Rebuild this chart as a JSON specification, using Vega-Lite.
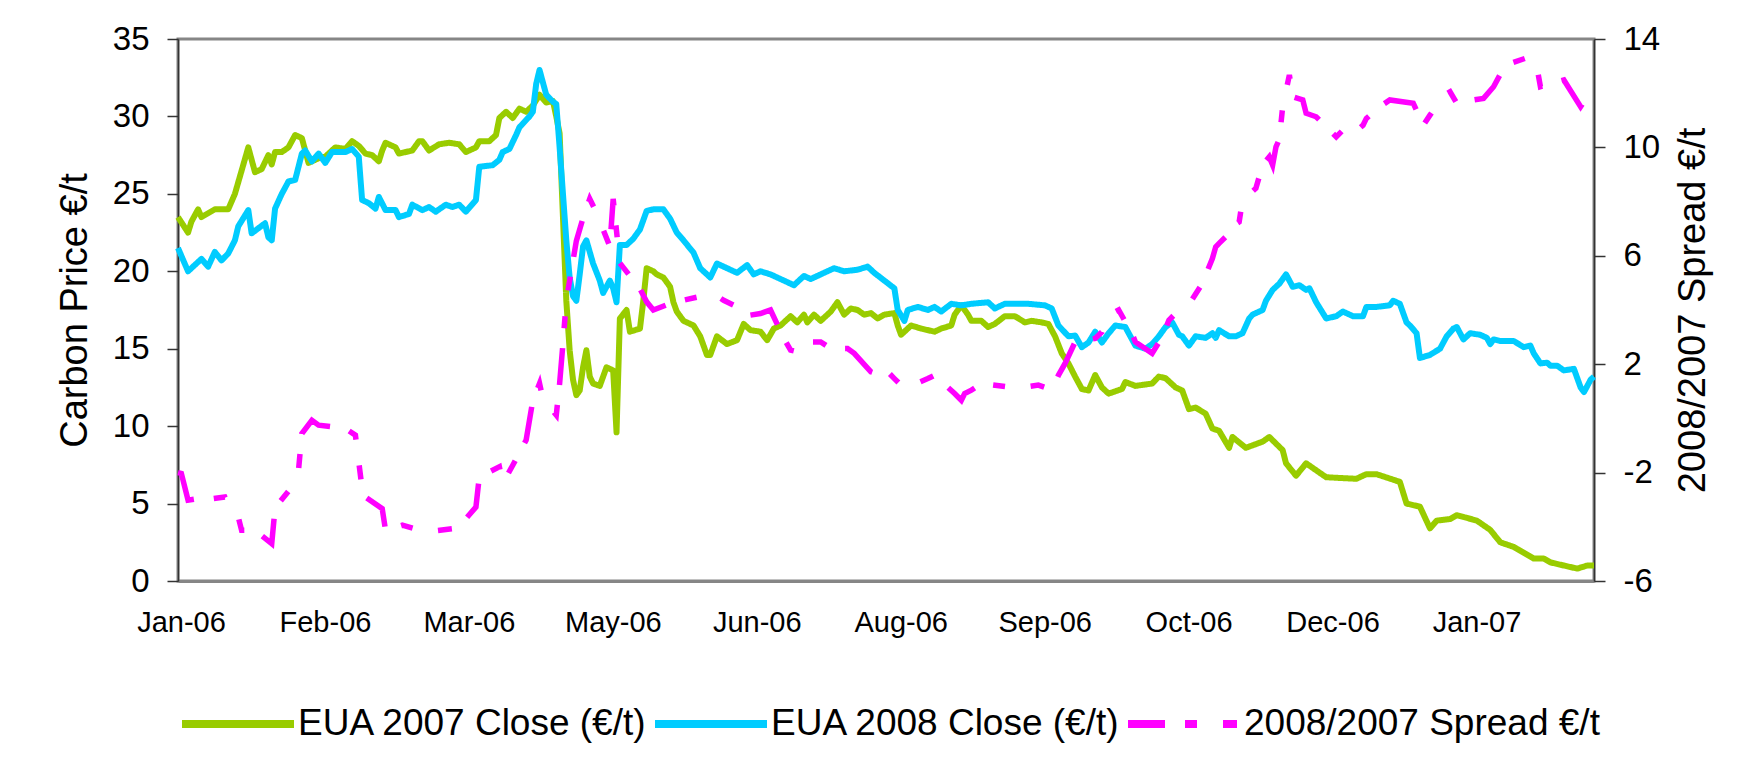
{
  "$schema": "https://vega.github.io/schema/vega-lite/v6.json",
  "width": 1416,
  "height": 542,
  "autosize": {"type": "none"},
  "padding": {"left": 178, "top": 39, "right": 160, "bottom": 178},
  "background": "white",
  "config": {
    "font": "Liberation Sans",
    "view": {"stroke": "#868686", "strokeWidth": 3},
    "axis": {"grid": false, "labelFont": "Liberation Sans", "titleFont": "Liberation Sans", "labelColor": "black", "titleColor": "black", "titleFontWeight": "normal"}
  },
  "datasets": {
    "eua": [
      {"date":"2006-01-02","series":"EUA 2007 Close (€/t)","price":23.5},
      {"date":"2006-01-05","series":"EUA 2007 Close (€/t)","price":22.5},
      {"date":"2006-01-06","series":"EUA 2007 Close (€/t)","price":23.2},
      {"date":"2006-01-08","series":"EUA 2007 Close (€/t)","price":24.0},
      {"date":"2006-01-09","series":"EUA 2007 Close (€/t)","price":23.5},
      {"date":"2006-01-13","series":"EUA 2007 Close (€/t)","price":24.0},
      {"date":"2006-01-17","series":"EUA 2007 Close (€/t)","price":24.0},
      {"date":"2006-01-19","series":"EUA 2007 Close (€/t)","price":25.0},
      {"date":"2006-01-21","series":"EUA 2007 Close (€/t)","price":26.5},
      {"date":"2006-01-23","series":"EUA 2007 Close (€/t)","price":28.0},
      {"date":"2006-01-25","series":"EUA 2007 Close (€/t)","price":26.4},
      {"date":"2006-01-27","series":"EUA 2007 Close (€/t)","price":26.6},
      {"date":"2006-01-29","series":"EUA 2007 Close (€/t)","price":27.5},
      {"date":"2006-01-30","series":"EUA 2007 Close (€/t)","price":26.9},
      {"date":"2006-01-31","series":"EUA 2007 Close (€/t)","price":27.7},
      {"date":"2006-02-02","series":"EUA 2007 Close (€/t)","price":27.7},
      {"date":"2006-02-04","series":"EUA 2007 Close (€/t)","price":28.0},
      {"date":"2006-02-06","series":"EUA 2007 Close (€/t)","price":28.8},
      {"date":"2006-02-08","series":"EUA 2007 Close (€/t)","price":28.6},
      {"date":"2006-02-10","series":"EUA 2007 Close (€/t)","price":27.0},
      {"date":"2006-02-13","series":"EUA 2007 Close (€/t)","price":27.3},
      {"date":"2006-02-15","series":"EUA 2007 Close (€/t)","price":27.4},
      {"date":"2006-02-18","series":"EUA 2007 Close (€/t)","price":28.0},
      {"date":"2006-02-21","series":"EUA 2007 Close (€/t)","price":27.9},
      {"date":"2006-02-23","series":"EUA 2007 Close (€/t)","price":28.4},
      {"date":"2006-02-25","series":"EUA 2007 Close (€/t)","price":28.1},
      {"date":"2006-02-27","series":"EUA 2007 Close (€/t)","price":27.6},
      {"date":"2006-03-01","series":"EUA 2007 Close (€/t)","price":27.5},
      {"date":"2006-03-03","series":"EUA 2007 Close (€/t)","price":27.1},
      {"date":"2006-03-04","series":"EUA 2007 Close (€/t)","price":27.8},
      {"date":"2006-03-05","series":"EUA 2007 Close (€/t)","price":28.3},
      {"date":"2006-03-08","series":"EUA 2007 Close (€/t)","price":28.0},
      {"date":"2006-03-09","series":"EUA 2007 Close (€/t)","price":27.6},
      {"date":"2006-03-11","series":"EUA 2007 Close (€/t)","price":27.7},
      {"date":"2006-03-13","series":"EUA 2007 Close (€/t)","price":27.8},
      {"date":"2006-03-15","series":"EUA 2007 Close (€/t)","price":28.4},
      {"date":"2006-03-16","series":"EUA 2007 Close (€/t)","price":28.4},
      {"date":"2006-03-18","series":"EUA 2007 Close (€/t)","price":27.8},
      {"date":"2006-03-21","series":"EUA 2007 Close (€/t)","price":28.2},
      {"date":"2006-03-24","series":"EUA 2007 Close (€/t)","price":28.3},
      {"date":"2006-03-27","series":"EUA 2007 Close (€/t)","price":28.2},
      {"date":"2006-03-29","series":"EUA 2007 Close (€/t)","price":27.7},
      {"date":"2006-04-01","series":"EUA 2007 Close (€/t)","price":28.0},
      {"date":"2006-04-02","series":"EUA 2007 Close (€/t)","price":28.4},
      {"date":"2006-04-05","series":"EUA 2007 Close (€/t)","price":28.4},
      {"date":"2006-04-07","series":"EUA 2007 Close (€/t)","price":28.8},
      {"date":"2006-04-08","series":"EUA 2007 Close (€/t)","price":29.9},
      {"date":"2006-04-10","series":"EUA 2007 Close (€/t)","price":30.3},
      {"date":"2006-04-12","series":"EUA 2007 Close (€/t)","price":29.9},
      {"date":"2006-04-14","series":"EUA 2007 Close (€/t)","price":30.5},
      {"date":"2006-04-16","series":"EUA 2007 Close (€/t)","price":30.3},
      {"date":"2006-04-18","series":"EUA 2007 Close (€/t)","price":30.7},
      {"date":"2006-04-20","series":"EUA 2007 Close (€/t)","price":31.4},
      {"date":"2006-04-22","series":"EUA 2007 Close (€/t)","price":30.9},
      {"date":"2006-04-24","series":"EUA 2007 Close (€/t)","price":31.0},
      {"date":"2006-04-25","series":"EUA 2007 Close (€/t)","price":30.0},
      {"date":"2006-04-26","series":"EUA 2007 Close (€/t)","price":28.9},
      {"date":"2006-04-27","series":"EUA 2007 Close (€/t)","price":23.5},
      {"date":"2006-04-28","series":"EUA 2007 Close (€/t)","price":18.1},
      {"date":"2006-04-29","series":"EUA 2007 Close (€/t)","price":14.9},
      {"date":"2006-04-30","series":"EUA 2007 Close (€/t)","price":13.0},
      {"date":"2006-05-01","series":"EUA 2007 Close (€/t)","price":12.0},
      {"date":"2006-05-02","series":"EUA 2007 Close (€/t)","price":12.3},
      {"date":"2006-05-03","series":"EUA 2007 Close (€/t)","price":13.8},
      {"date":"2006-05-04","series":"EUA 2007 Close (€/t)","price":14.9},
      {"date":"2006-05-05","series":"EUA 2007 Close (€/t)","price":13.2},
      {"date":"2006-05-06","series":"EUA 2007 Close (€/t)","price":12.75},
      {"date":"2006-05-08","series":"EUA 2007 Close (€/t)","price":12.6},
      {"date":"2006-05-10","series":"EUA 2007 Close (€/t)","price":13.8},
      {"date":"2006-05-12","series":"EUA 2007 Close (€/t)","price":13.6},
      {"date":"2006-05-13","series":"EUA 2007 Close (€/t)","price":9.6},
      {"date":"2006-05-14","series":"EUA 2007 Close (€/t)","price":16.95},
      {"date":"2006-05-16","series":"EUA 2007 Close (€/t)","price":17.5},
      {"date":"2006-05-17","series":"EUA 2007 Close (€/t)","price":16.1},
      {"date":"2006-05-20","series":"EUA 2007 Close (€/t)","price":16.3},
      {"date":"2006-05-21","series":"EUA 2007 Close (€/t)","price":18.1},
      {"date":"2006-05-22","series":"EUA 2007 Close (€/t)","price":20.2},
      {"date":"2006-05-24","series":"EUA 2007 Close (€/t)","price":20.0},
      {"date":"2006-05-25","series":"EUA 2007 Close (€/t)","price":19.8},
      {"date":"2006-05-27","series":"EUA 2007 Close (€/t)","price":19.6},
      {"date":"2006-05-29","series":"EUA 2007 Close (€/t)","price":19.0},
      {"date":"2006-05-30","series":"EUA 2007 Close (€/t)","price":18.0},
      {"date":"2006-05-31","series":"EUA 2007 Close (€/t)","price":17.4},
      {"date":"2006-06-02","series":"EUA 2007 Close (€/t)","price":16.8},
      {"date":"2006-06-05","series":"EUA 2007 Close (€/t)","price":16.5},
      {"date":"2006-06-07","series":"EUA 2007 Close (€/t)","price":15.8},
      {"date":"2006-06-09","series":"EUA 2007 Close (€/t)","price":14.6},
      {"date":"2006-06-10","series":"EUA 2007 Close (€/t)","price":14.6},
      {"date":"2006-06-12","series":"EUA 2007 Close (€/t)","price":15.8},
      {"date":"2006-06-15","series":"EUA 2007 Close (€/t)","price":15.3},
      {"date":"2006-06-18","series":"EUA 2007 Close (€/t)","price":15.55},
      {"date":"2006-06-20","series":"EUA 2007 Close (€/t)","price":16.6},
      {"date":"2006-06-22","series":"EUA 2007 Close (€/t)","price":16.2},
      {"date":"2006-06-25","series":"EUA 2007 Close (€/t)","price":16.1},
      {"date":"2006-06-27","series":"EUA 2007 Close (€/t)","price":15.55},
      {"date":"2006-06-29","series":"EUA 2007 Close (€/t)","price":16.3},
      {"date":"2006-07-01","series":"EUA 2007 Close (€/t)","price":16.5},
      {"date":"2006-07-04","series":"EUA 2007 Close (€/t)","price":17.1},
      {"date":"2006-07-06","series":"EUA 2007 Close (€/t)","price":16.7},
      {"date":"2006-07-08","series":"EUA 2007 Close (€/t)","price":17.2},
      {"date":"2006-07-09","series":"EUA 2007 Close (€/t)","price":16.7},
      {"date":"2006-07-11","series":"EUA 2007 Close (€/t)","price":17.2},
      {"date":"2006-07-13","series":"EUA 2007 Close (€/t)","price":16.8},
      {"date":"2006-07-16","series":"EUA 2007 Close (€/t)","price":17.4},
      {"date":"2006-07-18","series":"EUA 2007 Close (€/t)","price":18.0},
      {"date":"2006-07-20","series":"EUA 2007 Close (€/t)","price":17.2},
      {"date":"2006-07-22","series":"EUA 2007 Close (€/t)","price":17.6},
      {"date":"2006-07-24","series":"EUA 2007 Close (€/t)","price":17.5},
      {"date":"2006-07-26","series":"EUA 2007 Close (€/t)","price":17.2},
      {"date":"2006-07-28","series":"EUA 2007 Close (€/t)","price":17.3},
      {"date":"2006-07-30","series":"EUA 2007 Close (€/t)","price":16.95},
      {"date":"2006-08-01","series":"EUA 2007 Close (€/t)","price":17.2},
      {"date":"2006-08-04","series":"EUA 2007 Close (€/t)","price":17.3},
      {"date":"2006-08-05","series":"EUA 2007 Close (€/t)","price":16.5},
      {"date":"2006-08-06","series":"EUA 2007 Close (€/t)","price":15.9},
      {"date":"2006-08-09","series":"EUA 2007 Close (€/t)","price":16.5},
      {"date":"2006-08-12","series":"EUA 2007 Close (€/t)","price":16.3},
      {"date":"2006-08-16","series":"EUA 2007 Close (€/t)","price":16.1},
      {"date":"2006-08-18","series":"EUA 2007 Close (€/t)","price":16.3},
      {"date":"2006-08-21","series":"EUA 2007 Close (€/t)","price":16.5},
      {"date":"2006-08-22","series":"EUA 2007 Close (€/t)","price":17.2},
      {"date":"2006-08-24","series":"EUA 2007 Close (€/t)","price":17.8},
      {"date":"2006-08-26","series":"EUA 2007 Close (€/t)","price":17.2},
      {"date":"2006-08-27","series":"EUA 2007 Close (€/t)","price":16.8},
      {"date":"2006-08-30","series":"EUA 2007 Close (€/t)","price":16.8},
      {"date":"2006-09-01","series":"EUA 2007 Close (€/t)","price":16.4},
      {"date":"2006-09-03","series":"EUA 2007 Close (€/t)","price":16.6},
      {"date":"2006-09-06","series":"EUA 2007 Close (€/t)","price":17.1},
      {"date":"2006-09-09","series":"EUA 2007 Close (€/t)","price":17.1},
      {"date":"2006-09-12","series":"EUA 2007 Close (€/t)","price":16.7},
      {"date":"2006-09-14","series":"EUA 2007 Close (€/t)","price":16.8},
      {"date":"2006-09-17","series":"EUA 2007 Close (€/t)","price":16.7},
      {"date":"2006-09-19","series":"EUA 2007 Close (€/t)","price":16.6},
      {"date":"2006-09-21","series":"EUA 2007 Close (€/t)","price":15.8},
      {"date":"2006-09-23","series":"EUA 2007 Close (€/t)","price":14.7},
      {"date":"2006-09-25","series":"EUA 2007 Close (€/t)","price":14.05},
      {"date":"2006-09-27","series":"EUA 2007 Close (€/t)","price":13.2},
      {"date":"2006-09-29","series":"EUA 2007 Close (€/t)","price":12.4},
      {"date":"2006-10-01","series":"EUA 2007 Close (€/t)","price":12.3},
      {"date":"2006-10-03","series":"EUA 2007 Close (€/t)","price":13.3},
      {"date":"2006-10-05","series":"EUA 2007 Close (€/t)","price":12.5},
      {"date":"2006-10-07","series":"EUA 2007 Close (€/t)","price":12.1},
      {"date":"2006-10-11","series":"EUA 2007 Close (€/t)","price":12.4},
      {"date":"2006-10-12","series":"EUA 2007 Close (€/t)","price":12.85},
      {"date":"2006-10-15","series":"EUA 2007 Close (€/t)","price":12.6},
      {"date":"2006-10-20","series":"EUA 2007 Close (€/t)","price":12.75},
      {"date":"2006-10-22","series":"EUA 2007 Close (€/t)","price":13.2},
      {"date":"2006-10-24","series":"EUA 2007 Close (€/t)","price":13.1},
      {"date":"2006-10-27","series":"EUA 2007 Close (€/t)","price":12.5},
      {"date":"2006-10-29","series":"EUA 2007 Close (€/t)","price":12.3},
      {"date":"2006-10-31","series":"EUA 2007 Close (€/t)","price":11.1},
      {"date":"2006-11-02","series":"EUA 2007 Close (€/t)","price":11.2},
      {"date":"2006-11-05","series":"EUA 2007 Close (€/t)","price":10.8},
      {"date":"2006-11-07","series":"EUA 2007 Close (€/t)","price":9.85},
      {"date":"2006-11-09","series":"EUA 2007 Close (€/t)","price":9.7},
      {"date":"2006-11-12","series":"EUA 2007 Close (€/t)","price":8.6},
      {"date":"2006-11-13","series":"EUA 2007 Close (€/t)","price":9.3},
      {"date":"2006-11-17","series":"EUA 2007 Close (€/t)","price":8.6},
      {"date":"2006-11-22","series":"EUA 2007 Close (€/t)","price":9.0},
      {"date":"2006-11-24","series":"EUA 2007 Close (€/t)","price":9.3},
      {"date":"2006-11-28","series":"EUA 2007 Close (€/t)","price":8.45},
      {"date":"2006-11-29","series":"EUA 2007 Close (€/t)","price":7.6},
      {"date":"2006-12-02","series":"EUA 2007 Close (€/t)","price":6.8},
      {"date":"2006-12-05","series":"EUA 2007 Close (€/t)","price":7.6},
      {"date":"2006-12-11","series":"EUA 2007 Close (€/t)","price":6.7},
      {"date":"2006-12-20","series":"EUA 2007 Close (€/t)","price":6.6},
      {"date":"2006-12-23","series":"EUA 2007 Close (€/t)","price":6.9},
      {"date":"2006-12-26","series":"EUA 2007 Close (€/t)","price":6.9},
      {"date":"2007-01-02","series":"EUA 2007 Close (€/t)","price":6.4},
      {"date":"2007-01-04","series":"EUA 2007 Close (€/t)","price":5.0},
      {"date":"2007-01-08","series":"EUA 2007 Close (€/t)","price":4.8},
      {"date":"2007-01-11","series":"EUA 2007 Close (€/t)","price":3.4},
      {"date":"2007-01-13","series":"EUA 2007 Close (€/t)","price":3.9},
      {"date":"2007-01-17","series":"EUA 2007 Close (€/t)","price":4.0},
      {"date":"2007-01-19","series":"EUA 2007 Close (€/t)","price":4.25},
      {"date":"2007-01-25","series":"EUA 2007 Close (€/t)","price":3.9},
      {"date":"2007-01-29","series":"EUA 2007 Close (€/t)","price":3.3},
      {"date":"2007-02-01","series":"EUA 2007 Close (€/t)","price":2.5},
      {"date":"2007-02-05","series":"EUA 2007 Close (€/t)","price":2.2},
      {"date":"2007-02-11","series":"EUA 2007 Close (€/t)","price":1.45},
      {"date":"2007-02-14","series":"EUA 2007 Close (€/t)","price":1.45},
      {"date":"2007-02-16","series":"EUA 2007 Close (€/t)","price":1.2},
      {"date":"2007-02-20","series":"EUA 2007 Close (€/t)","price":1.0},
      {"date":"2007-02-24","series":"EUA 2007 Close (€/t)","price":0.8},
      {"date":"2007-02-27","series":"EUA 2007 Close (€/t)","price":1.0},
      {"date":"2007-03-01","series":"EUA 2007 Close (€/t)","price":1.0},
      {"date":"2006-01-02","series":"EUA 2008 Close (€/t)","price":21.5},
      {"date":"2006-01-05","series":"EUA 2008 Close (€/t)","price":20.0},
      {"date":"2006-01-07","series":"EUA 2008 Close (€/t)","price":20.4},
      {"date":"2006-01-09","series":"EUA 2008 Close (€/t)","price":20.8},
      {"date":"2006-01-11","series":"EUA 2008 Close (€/t)","price":20.3},
      {"date":"2006-01-13","series":"EUA 2008 Close (€/t)","price":21.25},
      {"date":"2006-01-15","series":"EUA 2008 Close (€/t)","price":20.7},
      {"date":"2006-01-17","series":"EUA 2008 Close (€/t)","price":21.15},
      {"date":"2006-01-19","series":"EUA 2008 Close (€/t)","price":22.0},
      {"date":"2006-01-20","series":"EUA 2008 Close (€/t)","price":22.9},
      {"date":"2006-01-23","series":"EUA 2008 Close (€/t)","price":23.95},
      {"date":"2006-01-24","series":"EUA 2008 Close (€/t)","price":22.45},
      {"date":"2006-01-28","series":"EUA 2008 Close (€/t)","price":23.1},
      {"date":"2006-01-29","series":"EUA 2008 Close (€/t)","price":22.2},
      {"date":"2006-01-30","series":"EUA 2008 Close (€/t)","price":22.0},
      {"date":"2006-01-31","series":"EUA 2008 Close (€/t)","price":24.05},
      {"date":"2006-02-02","series":"EUA 2008 Close (€/t)","price":25.0},
      {"date":"2006-02-04","series":"EUA 2008 Close (€/t)","price":25.8},
      {"date":"2006-02-06","series":"EUA 2008 Close (€/t)","price":25.9},
      {"date":"2006-02-08","series":"EUA 2008 Close (€/t)","price":27.6},
      {"date":"2006-02-09","series":"EUA 2008 Close (€/t)","price":27.8},
      {"date":"2006-02-11","series":"EUA 2008 Close (€/t)","price":27.1},
      {"date":"2006-02-13","series":"EUA 2008 Close (€/t)","price":27.6},
      {"date":"2006-02-15","series":"EUA 2008 Close (€/t)","price":27.0},
      {"date":"2006-02-17","series":"EUA 2008 Close (€/t)","price":27.7},
      {"date":"2006-02-21","series":"EUA 2008 Close (€/t)","price":27.7},
      {"date":"2006-02-23","series":"EUA 2008 Close (€/t)","price":27.9},
      {"date":"2006-02-25","series":"EUA 2008 Close (€/t)","price":27.4},
      {"date":"2006-02-26","series":"EUA 2008 Close (€/t)","price":24.6},
      {"date":"2006-02-28","series":"EUA 2008 Close (€/t)","price":24.4},
      {"date":"2006-03-02","series":"EUA 2008 Close (€/t)","price":24.05},
      {"date":"2006-03-03","series":"EUA 2008 Close (€/t)","price":24.8},
      {"date":"2006-03-05","series":"EUA 2008 Close (€/t)","price":23.95},
      {"date":"2006-03-08","series":"EUA 2008 Close (€/t)","price":23.95},
      {"date":"2006-03-09","series":"EUA 2008 Close (€/t)","price":23.5},
      {"date":"2006-03-12","series":"EUA 2008 Close (€/t)","price":23.7},
      {"date":"2006-03-13","series":"EUA 2008 Close (€/t)","price":24.3},
      {"date":"2006-03-16","series":"EUA 2008 Close (€/t)","price":23.95},
      {"date":"2006-03-18","series":"EUA 2008 Close (€/t)","price":24.15},
      {"date":"2006-03-20","series":"EUA 2008 Close (€/t)","price":23.85},
      {"date":"2006-03-23","series":"EUA 2008 Close (€/t)","price":24.3},
      {"date":"2006-03-25","series":"EUA 2008 Close (€/t)","price":24.15},
      {"date":"2006-03-27","series":"EUA 2008 Close (€/t)","price":24.3},
      {"date":"2006-03-29","series":"EUA 2008 Close (€/t)","price":23.85},
      {"date":"2006-04-01","series":"EUA 2008 Close (€/t)","price":24.6},
      {"date":"2006-04-02","series":"EUA 2008 Close (€/t)","price":26.75},
      {"date":"2006-04-06","series":"EUA 2008 Close (€/t)","price":26.85},
      {"date":"2006-04-08","series":"EUA 2008 Close (€/t)","price":27.2},
      {"date":"2006-04-09","series":"EUA 2008 Close (€/t)","price":27.7},
      {"date":"2006-04-11","series":"EUA 2008 Close (€/t)","price":27.9},
      {"date":"2006-04-13","series":"EUA 2008 Close (€/t)","price":28.8},
      {"date":"2006-04-14","series":"EUA 2008 Close (€/t)","price":29.3},
      {"date":"2006-04-17","series":"EUA 2008 Close (€/t)","price":30.0},
      {"date":"2006-04-18","series":"EUA 2008 Close (€/t)","price":30.3},
      {"date":"2006-04-19","series":"EUA 2008 Close (€/t)","price":32.1},
      {"date":"2006-04-20","series":"EUA 2008 Close (€/t)","price":33.0},
      {"date":"2006-04-22","series":"EUA 2008 Close (€/t)","price":31.4},
      {"date":"2006-04-24","series":"EUA 2008 Close (€/t)","price":30.95},
      {"date":"2006-04-25","series":"EUA 2008 Close (€/t)","price":30.8},
      {"date":"2006-04-26","series":"EUA 2008 Close (€/t)","price":28.0},
      {"date":"2006-04-27","series":"EUA 2008 Close (€/t)","price":25.0},
      {"date":"2006-04-28","series":"EUA 2008 Close (€/t)","price":22.0},
      {"date":"2006-04-29","series":"EUA 2008 Close (€/t)","price":19.6},
      {"date":"2006-04-30","series":"EUA 2008 Close (€/t)","price":18.4},
      {"date":"2006-05-01","series":"EUA 2008 Close (€/t)","price":18.1},
      {"date":"2006-05-02","series":"EUA 2008 Close (€/t)","price":19.8},
      {"date":"2006-05-03","series":"EUA 2008 Close (€/t)","price":21.6},
      {"date":"2006-05-04","series":"EUA 2008 Close (€/t)","price":22.0},
      {"date":"2006-05-06","series":"EUA 2008 Close (€/t)","price":20.5},
      {"date":"2006-05-08","series":"EUA 2008 Close (€/t)","price":19.4},
      {"date":"2006-05-09","series":"EUA 2008 Close (€/t)","price":18.6},
      {"date":"2006-05-11","series":"EUA 2008 Close (€/t)","price":19.4},
      {"date":"2006-05-12","series":"EUA 2008 Close (€/t)","price":18.9},
      {"date":"2006-05-13","series":"EUA 2008 Close (€/t)","price":18.0},
      {"date":"2006-05-14","series":"EUA 2008 Close (€/t)","price":21.7},
      {"date":"2006-05-16","series":"EUA 2008 Close (€/t)","price":21.7},
      {"date":"2006-05-18","series":"EUA 2008 Close (€/t)","price":22.1},
      {"date":"2006-05-20","series":"EUA 2008 Close (€/t)","price":22.7},
      {"date":"2006-05-22","series":"EUA 2008 Close (€/t)","price":23.9},
      {"date":"2006-05-24","series":"EUA 2008 Close (€/t)","price":24.0},
      {"date":"2006-05-27","series":"EUA 2008 Close (€/t)","price":24.0},
      {"date":"2006-05-29","series":"EUA 2008 Close (€/t)","price":23.4},
      {"date":"2006-05-31","series":"EUA 2008 Close (€/t)","price":22.5},
      {"date":"2006-06-02","series":"EUA 2008 Close (€/t)","price":22.0},
      {"date":"2006-06-05","series":"EUA 2008 Close (€/t)","price":21.2},
      {"date":"2006-06-07","series":"EUA 2008 Close (€/t)","price":20.2},
      {"date":"2006-06-10","series":"EUA 2008 Close (€/t)","price":19.6},
      {"date":"2006-06-12","series":"EUA 2008 Close (€/t)","price":20.5},
      {"date":"2006-06-15","series":"EUA 2008 Close (€/t)","price":20.2},
      {"date":"2006-06-18","series":"EUA 2008 Close (€/t)","price":19.9},
      {"date":"2006-06-21","series":"EUA 2008 Close (€/t)","price":20.4},
      {"date":"2006-06-23","series":"EUA 2008 Close (€/t)","price":19.8},
      {"date":"2006-06-25","series":"EUA 2008 Close (€/t)","price":20.0},
      {"date":"2006-06-28","series":"EUA 2008 Close (€/t)","price":19.8},
      {"date":"2006-07-02","series":"EUA 2008 Close (€/t)","price":19.4},
      {"date":"2006-07-05","series":"EUA 2008 Close (€/t)","price":19.1},
      {"date":"2006-07-08","series":"EUA 2008 Close (€/t)","price":19.7},
      {"date":"2006-07-10","series":"EUA 2008 Close (€/t)","price":19.5},
      {"date":"2006-07-13","series":"EUA 2008 Close (€/t)","price":19.8},
      {"date":"2006-07-17","series":"EUA 2008 Close (€/t)","price":20.2},
      {"date":"2006-07-20","series":"EUA 2008 Close (€/t)","price":20.0},
      {"date":"2006-07-24","series":"EUA 2008 Close (€/t)","price":20.1},
      {"date":"2006-07-27","series":"EUA 2008 Close (€/t)","price":20.3},
      {"date":"2006-07-29","series":"EUA 2008 Close (€/t)","price":19.9},
      {"date":"2006-08-01","series":"EUA 2008 Close (€/t)","price":19.4},
      {"date":"2006-08-04","series":"EUA 2008 Close (€/t)","price":18.9},
      {"date":"2006-08-05","series":"EUA 2008 Close (€/t)","price":17.5},
      {"date":"2006-08-07","series":"EUA 2008 Close (€/t)","price":16.8},
      {"date":"2006-08-08","series":"EUA 2008 Close (€/t)","price":17.5},
      {"date":"2006-08-11","series":"EUA 2008 Close (€/t)","price":17.7},
      {"date":"2006-08-14","series":"EUA 2008 Close (€/t)","price":17.5},
      {"date":"2006-08-16","series":"EUA 2008 Close (€/t)","price":17.7},
      {"date":"2006-08-18","series":"EUA 2008 Close (€/t)","price":17.4},
      {"date":"2006-08-21","series":"EUA 2008 Close (€/t)","price":17.9},
      {"date":"2006-08-24","series":"EUA 2008 Close (€/t)","price":17.8},
      {"date":"2006-08-27","series":"EUA 2008 Close (€/t)","price":17.9},
      {"date":"2006-09-01","series":"EUA 2008 Close (€/t)","price":18.0},
      {"date":"2006-09-03","series":"EUA 2008 Close (€/t)","price":17.6},
      {"date":"2006-09-06","series":"EUA 2008 Close (€/t)","price":17.9},
      {"date":"2006-09-10","series":"EUA 2008 Close (€/t)","price":17.9},
      {"date":"2006-09-13","series":"EUA 2008 Close (€/t)","price":17.9},
      {"date":"2006-09-18","series":"EUA 2008 Close (€/t)","price":17.8},
      {"date":"2006-09-20","series":"EUA 2008 Close (€/t)","price":17.6},
      {"date":"2006-09-22","series":"EUA 2008 Close (€/t)","price":16.5},
      {"date":"2006-09-25","series":"EUA 2008 Close (€/t)","price":15.8},
      {"date":"2006-09-27","series":"EUA 2008 Close (€/t)","price":15.85},
      {"date":"2006-09-29","series":"EUA 2008 Close (€/t)","price":15.1},
      {"date":"2006-10-01","series":"EUA 2008 Close (€/t)","price":15.4},
      {"date":"2006-10-03","series":"EUA 2008 Close (€/t)","price":16.1},
      {"date":"2006-10-05","series":"EUA 2008 Close (€/t)","price":15.4},
      {"date":"2006-10-07","series":"EUA 2008 Close (€/t)","price":16.0},
      {"date":"2006-10-09","series":"EUA 2008 Close (€/t)","price":16.5},
      {"date":"2006-10-12","series":"EUA 2008 Close (€/t)","price":16.4},
      {"date":"2006-10-15","series":"EUA 2008 Close (€/t)","price":15.2},
      {"date":"2006-10-18","series":"EUA 2008 Close (€/t)","price":15.0},
      {"date":"2006-10-20","series":"EUA 2008 Close (€/t)","price":15.3},
      {"date":"2006-10-22","series":"EUA 2008 Close (€/t)","price":15.8},
      {"date":"2006-10-24","series":"EUA 2008 Close (€/t)","price":16.4},
      {"date":"2006-10-26","series":"EUA 2008 Close (€/t)","price":16.7},
      {"date":"2006-10-28","series":"EUA 2008 Close (€/t)","price":15.9},
      {"date":"2006-10-29","series":"EUA 2008 Close (€/t)","price":15.8},
      {"date":"2006-10-31","series":"EUA 2008 Close (€/t)","price":15.2},
      {"date":"2006-11-02","series":"EUA 2008 Close (€/t)","price":15.8},
      {"date":"2006-11-05","series":"EUA 2008 Close (€/t)","price":15.7},
      {"date":"2006-11-07","series":"EUA 2008 Close (€/t)","price":16.0},
      {"date":"2006-11-08","series":"EUA 2008 Close (€/t)","price":15.7},
      {"date":"2006-11-09","series":"EUA 2008 Close (€/t)","price":16.2},
      {"date":"2006-11-12","series":"EUA 2008 Close (€/t)","price":15.8},
      {"date":"2006-11-14","series":"EUA 2008 Close (€/t)","price":15.8},
      {"date":"2006-11-16","series":"EUA 2008 Close (€/t)","price":16.0},
      {"date":"2006-11-18","series":"EUA 2008 Close (€/t)","price":16.95},
      {"date":"2006-11-19","series":"EUA 2008 Close (€/t)","price":17.2},
      {"date":"2006-11-22","series":"EUA 2008 Close (€/t)","price":17.5},
      {"date":"2006-11-23","series":"EUA 2008 Close (€/t)","price":18.1},
      {"date":"2006-11-25","series":"EUA 2008 Close (€/t)","price":18.8},
      {"date":"2006-11-27","series":"EUA 2008 Close (€/t)","price":19.2},
      {"date":"2006-11-29","series":"EUA 2008 Close (€/t)","price":19.8},
      {"date":"2006-12-01","series":"EUA 2008 Close (€/t)","price":19.0},
      {"date":"2006-12-03","series":"EUA 2008 Close (€/t)","price":19.1},
      {"date":"2006-12-05","series":"EUA 2008 Close (€/t)","price":18.8},
      {"date":"2006-12-06","series":"EUA 2008 Close (€/t)","price":18.9},
      {"date":"2006-12-08","series":"EUA 2008 Close (€/t)","price":18.0},
      {"date":"2006-12-11","series":"EUA 2008 Close (€/t)","price":16.95},
      {"date":"2006-12-14","series":"EUA 2008 Close (€/t)","price":17.1},
      {"date":"2006-12-16","series":"EUA 2008 Close (€/t)","price":17.4},
      {"date":"2006-12-19","series":"EUA 2008 Close (€/t)","price":17.1},
      {"date":"2006-12-22","series":"EUA 2008 Close (€/t)","price":17.1},
      {"date":"2006-12-23","series":"EUA 2008 Close (€/t)","price":17.7},
      {"date":"2006-12-26","series":"EUA 2008 Close (€/t)","price":17.7},
      {"date":"2006-12-30","series":"EUA 2008 Close (€/t)","price":17.8},
      {"date":"2006-12-31","series":"EUA 2008 Close (€/t)","price":18.1},
      {"date":"2007-01-02","series":"EUA 2008 Close (€/t)","price":17.9},
      {"date":"2007-01-04","series":"EUA 2008 Close (€/t)","price":16.7},
      {"date":"2007-01-05","series":"EUA 2008 Close (€/t)","price":16.5},
      {"date":"2007-01-07","series":"EUA 2008 Close (€/t)","price":16.0},
      {"date":"2007-01-08","series":"EUA 2008 Close (€/t)","price":14.4},
      {"date":"2007-01-11","series":"EUA 2008 Close (€/t)","price":14.6},
      {"date":"2007-01-14","series":"EUA 2008 Close (€/t)","price":15.0},
      {"date":"2007-01-16","series":"EUA 2008 Close (€/t)","price":15.8},
      {"date":"2007-01-18","series":"EUA 2008 Close (€/t)","price":16.3},
      {"date":"2007-01-19","series":"EUA 2008 Close (€/t)","price":16.4},
      {"date":"2007-01-21","series":"EUA 2008 Close (€/t)","price":15.6},
      {"date":"2007-01-23","series":"EUA 2008 Close (€/t)","price":16.0},
      {"date":"2007-01-26","series":"EUA 2008 Close (€/t)","price":15.9},
      {"date":"2007-01-28","series":"EUA 2008 Close (€/t)","price":15.7},
      {"date":"2007-01-29","series":"EUA 2008 Close (€/t)","price":15.3},
      {"date":"2007-01-30","series":"EUA 2008 Close (€/t)","price":15.6},
      {"date":"2007-02-01","series":"EUA 2008 Close (€/t)","price":15.5},
      {"date":"2007-02-05","series":"EUA 2008 Close (€/t)","price":15.5},
      {"date":"2007-02-08","series":"EUA 2008 Close (€/t)","price":15.1},
      {"date":"2007-02-10","series":"EUA 2008 Close (€/t)","price":15.2},
      {"date":"2007-02-11","series":"EUA 2008 Close (€/t)","price":14.7},
      {"date":"2007-02-13","series":"EUA 2008 Close (€/t)","price":14.05},
      {"date":"2007-02-15","series":"EUA 2008 Close (€/t)","price":14.1},
      {"date":"2007-02-16","series":"EUA 2008 Close (€/t)","price":13.9},
      {"date":"2007-02-18","series":"EUA 2008 Close (€/t)","price":13.9},
      {"date":"2007-02-20","series":"EUA 2008 Close (€/t)","price":13.6},
      {"date":"2007-02-23","series":"EUA 2008 Close (€/t)","price":13.7},
      {"date":"2007-02-25","series":"EUA 2008 Close (€/t)","price":12.5},
      {"date":"2007-02-26","series":"EUA 2008 Close (€/t)","price":12.2},
      {"date":"2007-02-28","series":"EUA 2008 Close (€/t)","price":13.0},
      {"date":"2007-03-01","series":"EUA 2008 Close (€/t)","price":13.2}
    ],
    "spread": [
      {"date":"2006-01-02","series":"2008/2007 Spread €/t","spread":-2.0},
      {"date":"2006-01-03","series":"2008/2007 Spread €/t","spread":-2.03},
      {"date":"2006-01-05","series":"2008/2007 Spread €/t","spread":-3.02},
      {"date":"2006-01-08","series":"2008/2007 Spread €/t","spread":-2.96},
      {"date":"2006-01-12","series":"2008/2007 Spread €/t","spread":-2.97},
      {"date":"2006-01-16","series":"2008/2007 Spread €/t","spread":-2.9},
      {"date":"2006-01-18","series":"2008/2007 Spread €/t","spread":-3.39},
      {"date":"2006-01-20","series":"2008/2007 Spread €/t","spread":-3.64},
      {"date":"2006-01-21","series":"2008/2007 Spread €/t","spread":-4.13},
      {"date":"2006-01-25","series":"2008/2007 Spread €/t","spread":-4.13},
      {"date":"2006-01-30","series":"2008/2007 Spread €/t","spread":-4.62},
      {"date":"2006-01-31","series":"2008/2007 Spread €/t","spread":-3.3},
      {"date":"2006-02-05","series":"2008/2007 Spread €/t","spread":-2.53},
      {"date":"2006-02-07","series":"2008/2007 Spread €/t","spread":-1.91},
      {"date":"2006-02-08","series":"2008/2007 Spread €/t","spread":-0.56},
      {"date":"2006-02-11","series":"2008/2007 Spread €/t","spread":-0.07},
      {"date":"2006-02-13","series":"2008/2007 Spread €/t","spread":-0.25},
      {"date":"2006-02-21","series":"2008/2007 Spread €/t","spread":-0.37},
      {"date":"2006-02-24","series":"2008/2007 Spread €/t","spread":-0.62},
      {"date":"2006-02-25","series":"2008/2007 Spread €/t","spread":-1.61},
      {"date":"2006-02-26","series":"2008/2007 Spread €/t","spread":-2.59},
      {"date":"2006-02-27","series":"2008/2007 Spread €/t","spread":-2.9},
      {"date":"2006-03-04","series":"2008/2007 Spread €/t","spread":-3.33},
      {"date":"2006-03-05","series":"2008/2007 Spread €/t","spread":-4.13},
      {"date":"2006-03-10","series":"2008/2007 Spread €/t","spread":-3.94},
      {"date":"2006-03-17","series":"2008/2007 Spread €/t","spread":-4.19},
      {"date":"2006-03-25","series":"2008/2007 Spread €/t","spread":-4.07},
      {"date":"2006-03-27","series":"2008/2007 Spread €/t","spread":-4.0},
      {"date":"2006-03-29","series":"2008/2007 Spread €/t","spread":-3.7},
      {"date":"2006-04-01","series":"2008/2007 Spread €/t","spread":-3.27},
      {"date":"2006-04-02","series":"2008/2007 Spread €/t","spread":-2.16},
      {"date":"2006-04-08","series":"2008/2007 Spread €/t","spread":-1.79},
      {"date":"2006-04-09","series":"2008/2007 Spread €/t","spread":-2.4},
      {"date":"2006-04-12","series":"2008/2007 Spread €/t","spread":-1.73},
      {"date":"2006-04-16","series":"2008/2007 Spread €/t","spread":-0.8},
      {"date":"2006-04-18","series":"2008/2007 Spread €/t","spread":0.67},
      {"date":"2006-04-20","series":"2008/2007 Spread €/t","spread":1.29},
      {"date":"2006-04-21","series":"2008/2007 Spread €/t","spread":0.73},
      {"date":"2006-04-25","series":"2008/2007 Spread €/t","spread":0.12},
      {"date":"2006-04-26","series":"2008/2007 Spread €/t","spread":1.29},
      {"date":"2006-04-27","series":"2008/2007 Spread €/t","spread":2.77},
      {"date":"2006-04-28","series":"2008/2007 Spread €/t","spread":4.36},
      {"date":"2006-05-01","series":"2008/2007 Spread €/t","spread":6.55},
      {"date":"2006-05-03","series":"2008/2007 Spread €/t","spread":7.4},
      {"date":"2006-05-05","series":"2008/2007 Spread €/t","spread":8.1},
      {"date":"2006-05-07","series":"2008/2007 Spread €/t","spread":7.6},
      {"date":"2006-05-09","series":"2008/2007 Spread €/t","spread":6.97},
      {"date":"2006-05-11","series":"2008/2007 Spread €/t","spread":6.35},
      {"date":"2006-05-12","series":"2008/2007 Spread €/t","spread":8.1},
      {"date":"2006-05-14","series":"2008/2007 Spread €/t","spread":5.73},
      {"date":"2006-05-18","series":"2008/2007 Spread €/t","spread":5.1},
      {"date":"2006-05-20","series":"2008/2007 Spread €/t","spread":4.78},
      {"date":"2006-05-22","series":"2008/2007 Spread €/t","spread":4.3},
      {"date":"2006-05-24","series":"2008/2007 Spread €/t","spread":4.0},
      {"date":"2006-05-29","series":"2008/2007 Spread €/t","spread":4.24},
      {"date":"2006-06-02","series":"2008/2007 Spread €/t","spread":4.36},
      {"date":"2006-06-07","series":"2008/2007 Spread €/t","spread":4.5},
      {"date":"2006-06-11","series":"2008/2007 Spread €/t","spread":4.6},
      {"date":"2006-06-14","series":"2008/2007 Spread €/t","spread":4.36},
      {"date":"2006-06-18","series":"2008/2007 Spread €/t","spread":4.12},
      {"date":"2006-06-22","series":"2008/2007 Spread €/t","spread":3.81},
      {"date":"2006-06-25","series":"2008/2007 Spread €/t","spread":3.87},
      {"date":"2006-06-28","series":"2008/2007 Spread €/t","spread":4.0},
      {"date":"2006-07-02","series":"2008/2007 Spread €/t","spread":2.95},
      {"date":"2006-07-04","series":"2008/2007 Spread €/t","spread":2.52},
      {"date":"2006-07-08","series":"2008/2007 Spread €/t","spread":2.4},
      {"date":"2006-07-10","series":"2008/2007 Spread €/t","spread":2.82},
      {"date":"2006-07-13","series":"2008/2007 Spread €/t","spread":2.82},
      {"date":"2006-07-16","series":"2008/2007 Spread €/t","spread":2.58},
      {"date":"2006-07-21","series":"2008/2007 Spread €/t","spread":2.58},
      {"date":"2006-07-23","series":"2008/2007 Spread €/t","spread":2.4},
      {"date":"2006-07-28","series":"2008/2007 Spread €/t","spread":1.72},
      {"date":"2006-07-31","series":"2008/2007 Spread €/t","spread":1.59},
      {"date":"2006-08-02","series":"2008/2007 Spread €/t","spread":1.72},
      {"date":"2006-08-04","series":"2008/2007 Spread €/t","spread":1.47},
      {"date":"2006-08-07","series":"2008/2007 Spread €/t","spread":1.1},
      {"date":"2006-08-14","series":"2008/2007 Spread €/t","spread":1.47},
      {"date":"2006-08-16","series":"2008/2007 Spread €/t","spread":1.59},
      {"date":"2006-08-22","series":"2008/2007 Spread €/t","spread":0.92},
      {"date":"2006-08-24","series":"2008/2007 Spread €/t","spread":0.67},
      {"date":"2006-08-25","series":"2008/2007 Spread €/t","spread":0.92},
      {"date":"2006-08-27","series":"2008/2007 Spread €/t","spread":1.04},
      {"date":"2006-08-30","series":"2008/2007 Spread €/t","spread":1.29},
      {"date":"2006-09-07","series":"2008/2007 Spread €/t","spread":1.16},
      {"date":"2006-09-09","series":"2008/2007 Spread €/t","spread":1.1},
      {"date":"2006-09-16","series":"2008/2007 Spread €/t","spread":1.23},
      {"date":"2006-09-19","series":"2008/2007 Spread €/t","spread":1.1},
      {"date":"2006-09-21","series":"2008/2007 Spread €/t","spread":1.29},
      {"date":"2006-09-22","series":"2008/2007 Spread €/t","spread":1.59},
      {"date":"2006-09-24","series":"2008/2007 Spread €/t","spread":2.03},
      {"date":"2006-09-27","series":"2008/2007 Spread €/t","spread":2.82},
      {"date":"2006-09-30","series":"2008/2007 Spread €/t","spread":2.88},
      {"date":"2006-10-03","series":"2008/2007 Spread €/t","spread":2.95},
      {"date":"2006-10-05","series":"2008/2007 Spread €/t","spread":3.19},
      {"date":"2006-10-06","series":"2008/2007 Spread €/t","spread":3.5},
      {"date":"2006-10-07","series":"2008/2007 Spread €/t","spread":3.81},
      {"date":"2006-10-10","series":"2008/2007 Spread €/t","spread":4.0},
      {"date":"2006-10-14","series":"2008/2007 Spread €/t","spread":3.13},
      {"date":"2006-10-15","series":"2008/2007 Spread €/t","spread":2.82},
      {"date":"2006-10-20","series":"2008/2007 Spread €/t","spread":2.4},
      {"date":"2006-10-23","series":"2008/2007 Spread €/t","spread":3.0},
      {"date":"2006-10-25","series":"2008/2007 Spread €/t","spread":3.62},
      {"date":"2006-10-28","series":"2008/2007 Spread €/t","spread":4.0},
      {"date":"2006-10-31","series":"2008/2007 Spread €/t","spread":4.2},
      {"date":"2006-11-04","series":"2008/2007 Spread €/t","spread":4.98},
      {"date":"2006-11-07","series":"2008/2007 Spread €/t","spread":5.9},
      {"date":"2006-11-08","series":"2008/2007 Spread €/t","spread":6.33},
      {"date":"2006-11-09","series":"2008/2007 Spread €/t","spread":6.46},
      {"date":"2006-11-11","series":"2008/2007 Spread €/t","spread":6.7},
      {"date":"2006-11-12","series":"2008/2007 Spread €/t","spread":7.01},
      {"date":"2006-11-15","series":"2008/2007 Spread €/t","spread":7.25},
      {"date":"2006-11-16","series":"2008/2007 Spread €/t","spread":8.06},
      {"date":"2006-11-20","series":"2008/2007 Spread €/t","spread":8.49},
      {"date":"2006-11-22","series":"2008/2007 Spread €/t","spread":9.35},
      {"date":"2006-11-24","series":"2008/2007 Spread €/t","spread":9.65},
      {"date":"2006-11-25","series":"2008/2007 Spread €/t","spread":9.35},
      {"date":"2006-11-26","series":"2008/2007 Spread €/t","spread":10.02},
      {"date":"2006-11-27","series":"2008/2007 Spread €/t","spread":10.3},
      {"date":"2006-11-28","series":"2008/2007 Spread €/t","spread":11.5},
      {"date":"2006-11-30","series":"2008/2007 Spread €/t","spread":12.67},
      {"date":"2006-12-01","series":"2008/2007 Spread €/t","spread":11.87},
      {"date":"2006-12-04","series":"2008/2007 Spread €/t","spread":11.75},
      {"date":"2006-12-05","series":"2008/2007 Spread €/t","spread":11.26},
      {"date":"2006-12-08","series":"2008/2007 Spread €/t","spread":11.13},
      {"date":"2006-12-14","series":"2008/2007 Spread €/t","spread":10.39},
      {"date":"2006-12-16","series":"2008/2007 Spread €/t","spread":10.64},
      {"date":"2006-12-18","series":"2008/2007 Spread €/t","spread":10.39},
      {"date":"2006-12-22","series":"2008/2007 Spread €/t","spread":10.82},
      {"date":"2006-12-23","series":"2008/2007 Spread €/t","spread":11.07},
      {"date":"2006-12-27","series":"2008/2007 Spread €/t","spread":11.5},
      {"date":"2006-12-30","series":"2008/2007 Spread €/t","spread":11.75},
      {"date":"2007-01-06","series":"2008/2007 Spread €/t","spread":11.63},
      {"date":"2007-01-09","series":"2008/2007 Spread €/t","spread":10.82},
      {"date":"2007-01-11","series":"2008/2007 Spread €/t","spread":11.19},
      {"date":"2007-01-15","series":"2008/2007 Spread €/t","spread":11.9},
      {"date":"2007-01-17","series":"2008/2007 Spread €/t","spread":12.05},
      {"date":"2007-01-19","series":"2008/2007 Spread €/t","spread":11.63},
      {"date":"2007-01-24","series":"2008/2007 Spread €/t","spread":11.75},
      {"date":"2007-01-27","series":"2008/2007 Spread €/t","spread":11.81},
      {"date":"2007-01-30","series":"2008/2007 Spread €/t","spread":12.24},
      {"date":"2007-02-02","series":"2008/2007 Spread €/t","spread":12.92},
      {"date":"2007-02-04","series":"2008/2007 Spread €/t","spread":13.1},
      {"date":"2007-02-10","series":"2008/2007 Spread €/t","spread":13.35},
      {"date":"2007-02-12","series":"2008/2007 Spread €/t","spread":12.92},
      {"date":"2007-02-13","series":"2008/2007 Spread €/t","spread":12.24},
      {"date":"2007-02-18","series":"2008/2007 Spread €/t","spread":12.42},
      {"date":"2007-02-20","series":"2008/2007 Spread €/t","spread":12.49},
      {"date":"2007-02-25","series":"2008/2007 Spread €/t","spread":11.5},
      {"date":"2007-02-27","series":"2008/2007 Spread €/t","spread":11.87},
      {"date":"2007-03-01","series":"2008/2007 Spread €/t","spread":12.18}
    ]
  },
  "layer": [
    {
      "data": {"name": "eua"},
      "mark": {"type": "line", "strokeWidth": 6, "strokeJoin": "round"},
      "encoding": {
        "x": {
          "field": "date", "type": "temporal",
          "scale": {"type": "utc", "domain": [{"year": 2006, "month": 1, "date": 2, "utc": true}, {"year": 2007, "month": 3, "date": 1, "utc": true}]},
          "axis": {
            "title": null, "orient": "bottom",
            "labelExpr": "utcFormat(datum.value, '%b-%y')",
            "values": [
              {"year": 2006, "month": 1, "date": 2, "utc": true},
              {"year": 2006, "month": 2, "date": 14, "utc": true},
              {"year": 2006, "month": 3, "date": 29, "utc": true},
              {"year": 2006, "month": 5, "date": 11, "utc": true},
              {"year": 2006, "month": 6, "date": 23, "utc": true},
              {"year": 2006, "month": 8, "date": 5, "utc": true},
              {"year": 2006, "month": 9, "date": 17, "utc": true},
              {"year": 2006, "month": 10, "date": 30, "utc": true},
              {"year": 2006, "month": 12, "date": 12, "utc": true},
              {"year": 2007, "month": 1, "date": 24, "utc": true}
            ],
            "ticks": false, "tickSize": 0, "labelPadding": 27, "labelOffset": 3,
            "labelFontSize": 29, "labelFlush": false, "labelOverlap": false,
            "domainColor": "#868686", "domainWidth": 3
          }
        },
        "y": {
          "field": "price", "type": "quantitative",
          "scale": {"domain": [0, 35], "nice": false, "zero": false},
          "axis": {
            "orient": "left", "title": "Carbon Price €/t", "values": [0, 5, 10, 15, 20, 25, 30, 35],
            "labelFontSize": 33, "labelPadding": 18, "tickSize": 11, "tickColor": "#333333", "tickWidth": 1.5,
            "domainColor": "#333333", "domainWidth": 1.5, "titleFontSize": 38, "titlePadding": 18
          }
        },
        "color": {
          "field": "series", "type": "nominal",
          "scale": {"domain": ["EUA 2007 Close (€/t)", "EUA 2008 Close (€/t)", "2008/2007 Spread €/t"], "range": ["#99CC00", "#00CCFF", "#FF00FF"]},
          "legend": {"title": null, "orient": "none", "legendX": 0, "legendY": 625, "direction": "horizontal", "columns": 3, "columnPadding": -9, "labelFontSize": 37, "labelFont": "Liberation Sans", "labelColor": "black", "labelLimit": 600, "labelOffset": 0, "symbolType": "stroke", "symbolSize": 12544, "symbolStrokeWidth": 8, "padding": 0, "symbolOpacity": 1}
        },
        "strokeDash": {
          "field": "series", "type": "nominal",
          "scale": {"domain": ["EUA 2007 Close (€/t)", "EUA 2008 Close (€/t)", "2008/2007 Spread €/t"], "range": [[1, 0], [1, 0], [37, 20, 12, 26, 14, 20]]},
          "legend": {"title": null, "orient": "none", "legendX": 0, "legendY": 625, "direction": "horizontal", "columns": 3, "columnPadding": -9, "labelFontSize": 37, "labelFont": "Liberation Sans", "labelColor": "black", "labelLimit": 600, "labelOffset": 0, "symbolType": "stroke", "symbolSize": 12544, "symbolStrokeWidth": 8, "padding": 0, "symbolOpacity": 1}
        }
      }
    },
    {
      "data": {"name": "spread"},
      "mark": {"type": "line", "strokeWidth": 5.5, "strokeCap": "butt"},
      "encoding": {
        "x": {"field": "date", "type": "temporal"},
        "y": {
          "field": "spread", "type": "quantitative",
          "scale": {"domain": [-6, 14], "nice": false, "zero": false},
          "axis": {
            "orient": "right", "title": "2008/2007 Spread €/t", "values": [-6, -2, 2, 6, 10, 14],
            "labelExpr": "'' + datum.value",
            "labelFontSize": 33, "labelPadding": 18, "tickSize": 11, "tickColor": "#333333", "tickWidth": 1.5,
            "domainColor": "#333333", "domainWidth": 1.5, "titleFontSize": 38, "titlePadding": 15,
            "titleAngle": 270, "titleBaseline": "top"
          }
        },
        "color": {"field": "series", "type": "nominal"},
        "strokeDash": {"field": "series", "type": "nominal"}
      }
    }
  ],
  "resolve": {"scale": {"y": "independent"}}
}
